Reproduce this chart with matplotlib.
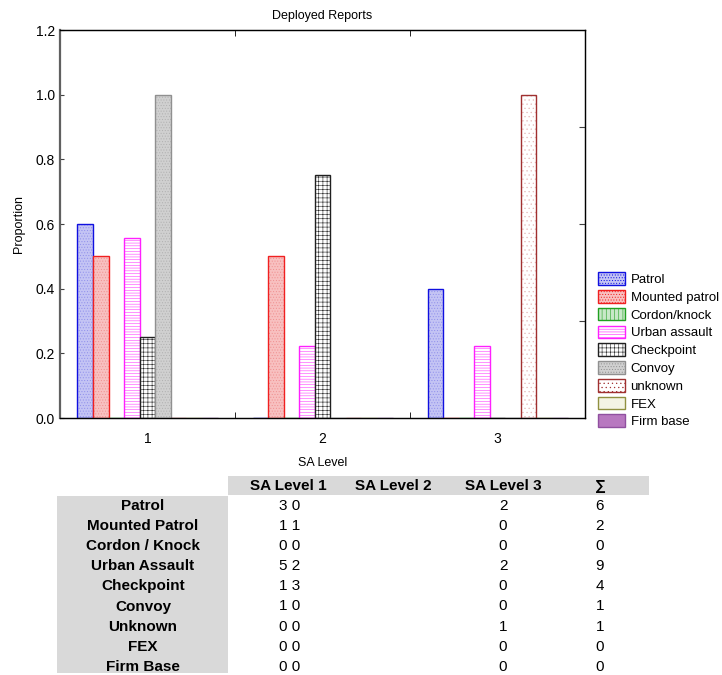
import matplotlib.pyplot as plt
from matplotlib.patches import Rectangle
import numpy as np

plt.rcParams['font.family'] = ['Liberation Sans', 'DejaVu Sans']
plt.rcParams['hatch.linewidth'] = 0.4

# 데이터
groups = [1, 2, 3]
series = ['Patrol', 'Mounted patrol', 'Cordon/knock', 'Urban assault',
          'Checkpoint', 'Convoy', 'unknown', 'FEX', 'Firm base']
patrol = [0.6, 0.0, 0.4]
mounted = [0.5, 0.5, 0.0]
cordon = [0.0, 0.0, 0.0]
urban = [0.556, 0.222, 0.222]
checkpoint = [0.25, 0.75, 0.0]
convoy = [1.0, 0.0, 0.0]
unknown = [0.0, 0.0, 1.0]
fex = [0.0, 0.0, 0.0]
firm = [0.0, 0.0, 0.0]
values = [patrol, mounted, cordon, urban, checkpoint, convoy, unknown, fex, firm]

# 표 데이터
row_names = ['Patrol', 'Mounted Patrol', 'Cordon / Knock', 'Urban Assault',
             'Checkpoint', 'Convoy', 'Unknown', 'FEX', 'Firm Base']
col_names = ['SA Level 1', 'SA Level 2', 'SA Level 3', '∑']
lvl1 = ['3 0', '1 1', '0 0', '5 2', '1 3', '1 0', '0 0', '0 0', '0 0']
lvl3 = ['2', '0', '0', '2', '0', '0', '1', '0', '0']
total = ['6', '2', '0', '9', '4', '1', '1', '0', '0']

# 색, 패턴
faces = ['#c4c4f4', '#f8c0c0', '#c8e8c8', '#ffffff', '#ffffff',
         '#d0d0d0', '#ffffff', '#f4f4e4', '#b878c0']
edges = ['#1010e0', '#f02020', '#20a020', '#ff20ff', '#202020',
         '#909090', '#a03030', '#909040', '#9050a0']
hatches = ['......', '......', '||||', '------', '++++', '......', '....', '', '']
hatch_cols = ['#9090ec', '#f09090', '#30a030', '#ff40ff', '#202020',
              '#b0b0b0', '#e4b8b8', '#d8d8b0', '#b878c0']

W, H = 722, 675
fig = plt.figure(figsize=(W / 100, H / 100), dpi=100)
ax = fig.add_axes([60 / W, 1 - 418 / H, 525 / W, 388 / H])

n = len(series)
bw = 0.8 / n
x = np.array(groups, dtype=float)
handles = []
for i in range(n):
    pos = x - 0.4 + (i + 0.5) * bw
    # 패턴 먼저, 테두리 나중
    ax.bar(pos, values[i], bw, color=faces[i], edgecolor=hatch_cols[i],
           hatch=hatches[i], linewidth=0)
    ax.bar(pos, values[i], bw, color='none', edgecolor=edges[i],
           linewidth=1.0)
    handles.append(Rectangle((0, 0), 1, 1, facecolor=faces[i],
                             edgecolor=edges[i], hatch=hatches[i], linewidth=1.0))

ax.set_xlim(0.5, 3.5)
ax.set_ylim(0, 1.2)
ax.set_xticks(groups)
ax.set_xticks([1.5, 2.5], minor=True)
ax.set_yticks([0.0, 0.2, 0.4, 0.6, 0.8, 1.0, 1.2])
ax.set_yticklabels(['0.0', '0.2', '0.4', '0.6', '0.8', '1.0', '1.2'])
ax.tick_params(axis='both', which='major', direction='in', length=3,
               labelsize=10, colors='#404040', labelcolor='black')
ax.tick_params(axis='x', which='major', length=0, pad=10)
ax.tick_params(axis='x', which='minor', direction='in', length=4,
               top=True, bottom=True)
ax.spines['left'].set_color('#606060')
ax.spines['left'].set_linewidth(1.6)
for s in ['top', 'right', 'bottom']:
    ax.spines[s].set_linewidth(1.0)
    ax.spines[s].set_color('#202020')

# 오른쪽 눈금
ax2 = ax.twinx()
ax2.set_ylim(0, 1.2)
ax2.set_yticks([0.3, 0.6, 0.9])
ax2.tick_params(axis='y', direction='in', length=4, labelright=False,
                colors='#404040')
ax2.spines['left'].set_visible(False)

ax.set_title('Deployed Reports', fontsize=9, pad=8)
ax.set_xlabel('SA Level', fontsize=9, labelpad=8)
ax.set_ylabel('Proportion', fontsize=9, labelpad=8)

leg = fig.legend(handles, series, loc='upper left',
                 bbox_to_anchor=(589 / W, 1 - 263 / H), frameon=False,
                 fontsize=9.5, handlelength=2.0, handleheight=1.1,
                 labelspacing=0.3, handletextpad=0.45, borderpad=0.2)

# 표 그리기
def fx(px):
    return px / W

def fy(py):
    return 1 - py / H

fig.patches.append(Rectangle((fx(228), fy(495)), fx(649) - fx(228), (495 - 476) / H,
                             transform=fig.transFigure, facecolor='#d9d9d9',
                             edgecolor='none'))
fig.patches.append(Rectangle((fx(57), fy(673)), fx(228) - fx(57), (673 - 496) / H,
                             transform=fig.transFigure, facecolor='#d9d9d9',
                             edgecolor='none'))

col_x = [288, 393, 503, 600]
for cx, name in zip(col_x, col_names):
    fig.text(fx(cx), fy(486), name, ha='center', va='center',
             fontsize=11, fontweight='bold')

for r, name in enumerate(row_names):
    yy = fy(506 + r * 20.1)
    fig.text(fx(143), yy, name, ha='center', va='center',
             fontsize=11, fontweight='bold')
    fig.text(fx(290), yy, lvl1[r], ha='center', va='center', fontsize=11)
    fig.text(fx(503), yy, lvl3[r], ha='center', va='center', fontsize=11)
    fig.text(fx(600), yy, total[r], ha='center', va='center', fontsize=11)

fig.savefig('out.png', dpi=100)
